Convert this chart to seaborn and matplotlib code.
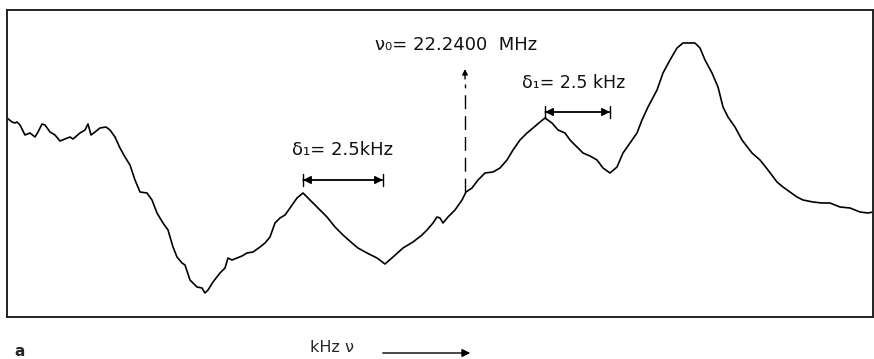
import matplotlib
matplotlib.use("Agg")
import matplotlib.pyplot as plt
import seaborn as sns
import pandas as pd

# frequency axis position (arbitrary units)
freq = [7, 12, 15, 17, 20, 25, 30, 35, 38, 42,
        45, 50, 55, 60, 65, 70, 73, 80, 85, 88,
        91, 95, 100, 106, 110, 115, 120, 125, 130, 135,
        140, 147, 152, 157, 163, 168, 173, 177, 182, 185,
        190, 197, 202, 205, 208, 213, 220, 225, 228, 232,
        237, 242, 247, 253, 260, 265, 270, 275, 280, 285,
        290, 297, 303, 308, 317, 327, 335, 343, 352, 358,
        367, 377, 385, 393, 403, 413, 422, 427, 433, 437,
        440, 443, 448, 455, 462, 466, 472, 478, 485, 493,
        500, 507, 513, 520, 527, 533, 540, 545, 552, 558,
        565, 570, 577, 583, 590, 597, 603, 610, 617, 623,
        630, 637, 642, 648, 657, 663, 670, 677, 683, 690,
        695, 700, 705, 712, 718, 723, 728, 735, 742, 752,
        760, 768, 777, 783, 790, 797, 803, 813, 822, 830,
        840, 850, 860, 868, 873]

# signal amplitude (arbitrary units)
signal = [199, 195, 194, 195, 192, 182, 184, 180, 185, 193,
          192, 185, 182, 176, 178, 180, 178, 184, 187, 193,
          182, 185, 189, 190, 187, 180, 169, 160, 152, 137,
          125, 124, 117, 104, 94, 87, 70, 60, 54, 52,
          37, 30, 29, 24, 27, 35, 44, 49, 59, 57,
          59, 61, 64, 65, 70, 74, 80, 94, 99, 102,
          109, 119, 124, 119, 110, 100, 90, 82, 74, 69,
          64, 59, 53, 60, 69, 75, 82, 87, 94, 100,
          99, 94, 100, 107, 117, 125, 129, 137, 144, 145,
          149, 157, 167, 177, 184, 189, 195, 199, 194, 187,
          184, 177, 170, 164, 161, 157, 149, 144, 150, 164,
          174, 184, 197, 210, 227, 244, 257, 269, 274, 274,
          274, 269, 257, 244, 230, 210, 200, 190, 177, 164,
          157, 147, 135, 130, 125, 120, 117, 115, 114, 114,
          110, 109, 105, 104, 105]

assert len(freq) == len(signal)

nu0_label = "ν\u2080= 22.2400  MHz"
delta_label_left = "δ\u2081= 2.5kHz"
delta_label_right = "δ\u2081= 2.5 kHz"
xlabel = "kHz ν"
panel = "a"

# annotation anchors (data units)
nu0_x = 465
peak_left = (303, 383)
peak_right = (545, 610)

df = pd.DataFrame({"freq": freq, "signal": signal})

sns.set_style("white")
plt.rcParams["font.family"] = ["DejaVu Sans"]

fig = plt.figure(figsize=(8.74, 3.59), dpi=100)
ax = fig.add_axes([7 / 874, 42 / 359, 866 / 874, 307 / 359])
sns.lineplot(data=df, x="freq", y="signal", ax=ax, color="black", linewidth=1.2)

ax.set_xlim(7, 873)
ax.set_ylim(0, 307)
ax.set_xticks([])
ax.set_yticks([])
ax.set_xlabel("")
ax.set_ylabel("")
for s in ax.spines.values():
    s.set_visible(True)
    s.set_color("#222222")
    s.set_linewidth(1.4)

# nu0 marker
ax.text(375, 272, nu0_label, fontsize=13, ha="left", va="center", color="#111111")
ax.vlines(nu0_x, 125, 233, colors="black", linewidth=1.0, linestyles=(0, (10, 5)))
ax.annotate("", xy=(nu0_x, 248), xytext=(nu0_x, 238),
            arrowprops=dict(arrowstyle="-|>", color="black", lw=1.0,
                            mutation_scale=8, shrinkA=0, shrinkB=0))

def dim_arrow(x0, x1, y):
    ax.annotate("", xy=(x1, y), xytext=(x0, y),
                arrowprops=dict(arrowstyle="<|-|>", color="black", lw=1.0,
                                mutation_scale=12, shrinkA=0, shrinkB=0))
    ax.annotate("", xy=(x1, y), xytext=(x0, y),
                arrowprops=dict(arrowstyle="|-|, widthA=0.35, widthB=0.35",
                                color="black", lw=1.0,
                                mutation_scale=12, shrinkA=0, shrinkB=0))

dim_arrow(peak_left[0], peak_left[1], 137)
ax.text(292, 167, delta_label_left, fontsize=13, ha="left", va="center", color="#111111")

dim_arrow(peak_right[0], peak_right[1], 205)
ax.text(522, 234, delta_label_right, fontsize=12.5, ha="left", va="center", color="#111111")

# bottom labels
fig.text(14 / 874, 7 / 359, panel, fontsize=11, fontweight="bold", ha="left", va="center")
fig.text(310 / 874, 11 / 359, xlabel, fontsize=11.5, ha="left", va="center")
fig.patches.append(matplotlib.patches.FancyArrowPatch(
    (380 / 874, 6 / 359), (473 / 874, 6 / 359), transform=fig.transFigure,
    arrowstyle="-|>", mutation_scale=12, color="black", lw=1.0))

fig.savefig("out.png", dpi=100)
